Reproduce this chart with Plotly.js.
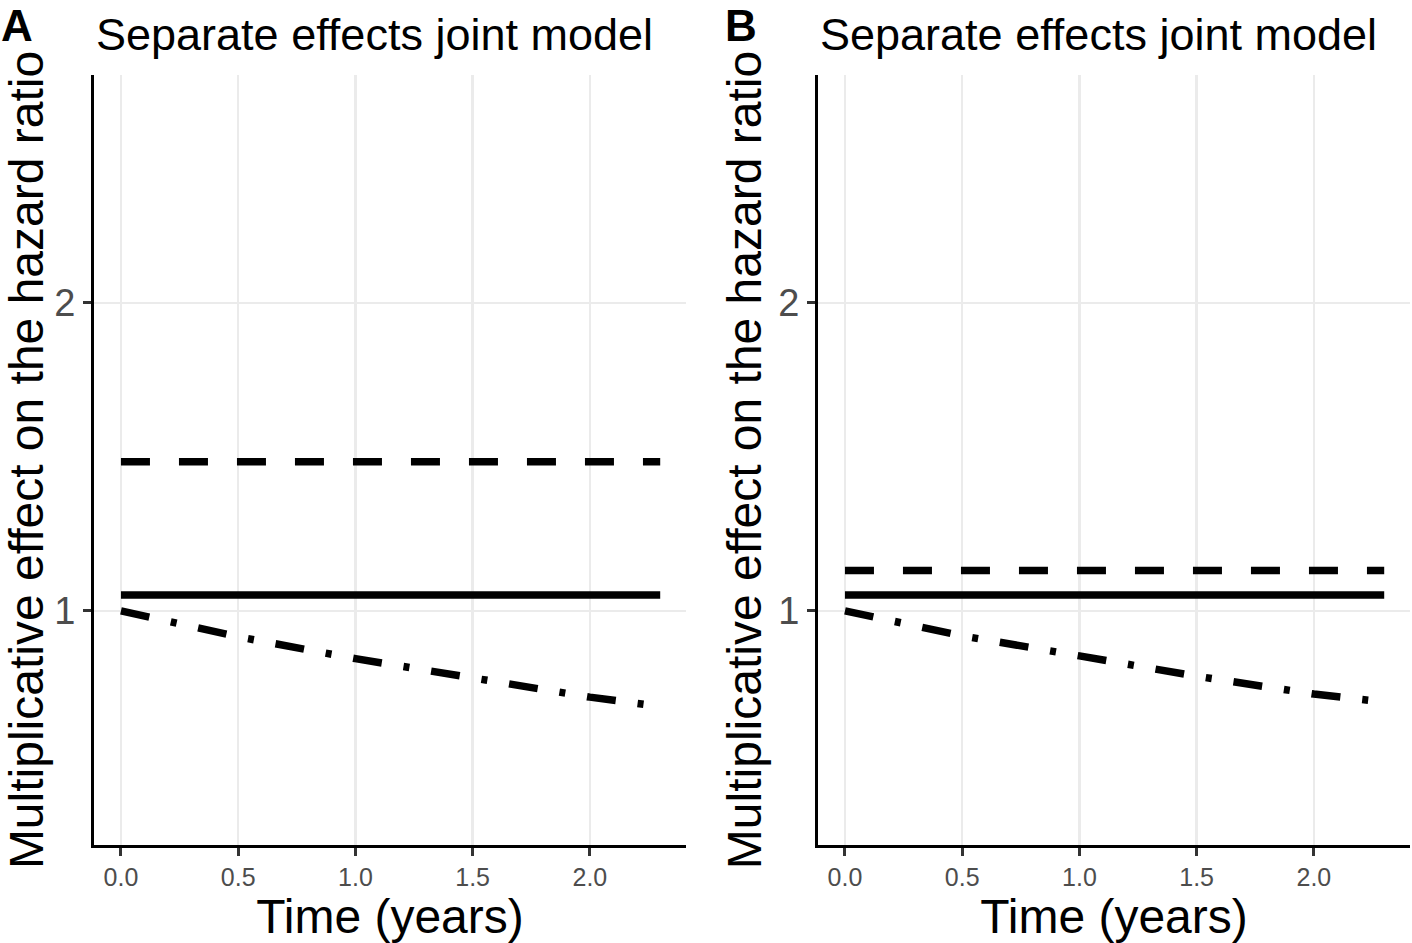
<!DOCTYPE html>
<html>
<head>
<meta charset="utf-8">
<script src="https://cdn.plot.ly/plotly-3.0.1.min.js"></script>
<style>
  body { margin: 0; background: #fff; }
  #plot { width: 1412px; height: 943px; }
</style>
</head>
<body>
<div id="plot"></div>
<script>
// time points (years)
const time = [0, 0.5, 1.0, 1.5, 2.0, 2.3];

// panel A values
const solidA = [1.052, 1.052, 1.052, 1.052, 1.052, 1.052];
const dashedA = [1.484, 1.484, 1.484, 1.484, 1.484, 1.484];
const dashDotA = [1.0, 0.916, 0.845, 0.78, 0.72, 0.69];

// panel B values
const solidB = [1.052, 1.052, 1.052, 1.052, 1.052, 1.052];
const dashedB = [1.131, 1.131, 1.131, 1.131, 1.131, 1.131];
const dashDotB = [1.0, 0.919, 0.854, 0.788, 0.73, 0.704];

const xTicks = [0, 0.5, 1.0, 1.5, 2.0];
const xTickText = ['0.0', '0.5', '1.0', '1.5', '2.0'];
const yTicks = [1, 2];
const yTickText = ['1', '2'];

const panelTitle = 'Separate effects joint model';
const panelLetters = ['A', 'B'];

const FONT = 'Liberation Sans, Arial, Helvetica, sans-serif';
const LW = 7.5;

function line(x, y, dash, xa, ya) {
    return {
        x: x, y: y, xaxis: xa, yaxis: ya,
        type: 'scatter', mode: 'lines',
        line: {color: '#000', width: LW, dash: dash},
        showlegend: false, hoverinfo: 'skip'
    };
}

const traces = [
    line(time, dashedA, '29px,29px', 'x', 'y'),
    line(time, solidA, 'solid', 'x', 'y'),
    line(time, dashDotA, '29px,22px,6px,22px', 'x', 'y'),
    line(time, dashedB, '29px,29px', 'x2', 'y2'),
    line(time, solidB, 'solid', 'x2', 'y2'),
    line(time, dashDotB, '29px,22px,6px,22px', 'x2', 'y2')
];

const W = 1412, H = 943;
const domA = [94 / W, 686 / W];
const domB = [818 / W, 1410 / W];
const domY = [(H - 845) / H, (H - 75) / H];

function xAxis(dom, anchor) {
    return {
        domain: dom, anchor: anchor,
        range: [-0.115, 2.41],
        tickvals: xTicks, ticktext: xTickText,
        tickfont: {family: FONT, size: 25, color: '#4d4d4d'},
        ticks: 'outside', ticklen: 8, tickwidth: 3, tickcolor: '#333333',
        showline: true, linecolor: '#000', linewidth: 3,
        showgrid: true, gridcolor: '#ebebeb', gridwidth: 2.5,
        zeroline: false,
        title: {text: 'Time (years)', font: {family: FONT, size: 48, color: '#000'}, standoff: 2}
    };
}

function yAxis(anchor) {
    return {
        domain: domY, anchor: anchor,
        range: [0.24, 2.74],
        tickvals: yTicks, ticktext: yTickText,
        tickfont: {family: FONT, size: 38, color: '#4d4d4d'},
        ticks: 'outside', ticklen: 8, tickwidth: 3, tickcolor: '#333333',
        showline: true, linecolor: '#000', linewidth: 3,
        showgrid: true, gridcolor: '#ebebeb', gridwidth: 2.5,
        zeroline: false,
        title: {text: 'Multiplicative effect on the hazard ratio', font: {family: FONT, size: 48, color: '#000'}, standoff: 2}
    };
}

const annotations = [];
[domA, domB].forEach(function (dom, i) {
    annotations.push({
        text: panelTitle, xref: 'paper', yref: 'paper',
        x: dom[0], y: 1 - 35 / H, xanchor: 'left', yanchor: 'middle',
        showarrow: false, font: {family: FONT, size: 45, color: '#000'}
    });
    annotations.push({
        text: '<b>' + panelLetters[i] + '</b>', xref: 'paper', yref: 'paper',
        x: dom[0] - 94 / W, y: 1, xanchor: 'left', yanchor: 'top',
        showarrow: false, borderpad: 0, font: {family: FONT, size: 44, color: '#000'}
    });
});

const layout = {
    width: W, height: H,
    margin: {l: 0, r: 0, t: 0, b: 0},
    paper_bgcolor: '#fff', plot_bgcolor: '#fff',
    xaxis: xAxis(domA, 'y'),
    yaxis: yAxis('x'),
    xaxis2: xAxis(domB, 'y2'),
    yaxis2: yAxis('x2'),
    annotations: annotations,
    showlegend: false
};

Plotly.newPlot('plot', traces, layout, {displayModeBar: false, staticPlot: true});
</script>
</body>
</html>
